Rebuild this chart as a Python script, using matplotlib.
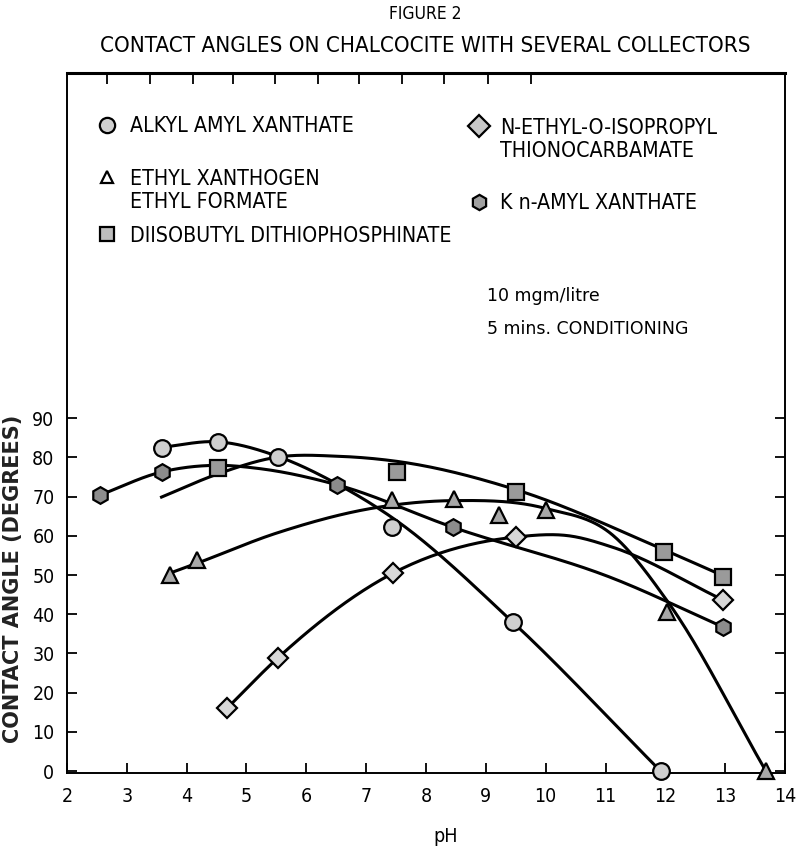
import numpy as np
import matplotlib
matplotlib.use('Agg')
import matplotlib.pyplot as plt

plt.rcParams['font.family'] = ['DejaVu Sans']
plt.rcParams['font.stretch'] = 'condensed'

# Marker points (pH, contact angle in degrees)
alkyl_ph = [3.58, 4.52, 5.52, 7.43, 9.45, 11.92]
alkyl_angle = [82.4, 83.9, 80.1, 62.2, 38.0, 0.0]
formate_ph = [3.72, 4.17, 7.43, 8.47, 9.22, 10.0, 12.02, 13.68]
formate_angle = [50.0, 53.8, 69.1, 69.4, 65.3, 66.6, 40.6, 0.0]
phosphinate_ph = [4.52, 7.52, 9.5, 11.97, 12.97]
phosphinate_angle = [77.3, 76.3, 71.2, 55.9, 49.5]
thiono_ph = [4.68, 5.52, 7.45, 9.5, 12.97]
thiono_angle = [16.1, 28.8, 50.5, 59.7, 43.6]
kamyl_ph = [2.55, 3.58, 6.52, 8.45, 12.97]
kamyl_angle = [70.4, 76.3, 73.0, 62.2, 36.7]

# Points along the hand drawn curves (they do not always hit the markers)
alkyl_curve_ph = [3.58, 4.52, 5.52, 6.52, 7.45, 9.45, 11.92]
alkyl_curve_angle = [82.6, 84.0, 80.3, 73.2, 64.5, 38.0, 0.0]
formate_curve_ph = [3.72, 4.17, 5.5, 7.2, 8.47, 10.0, 11.12, 12.05, 13.68]
formate_curve_angle = [50.5, 53.0, 60.7, 67.3, 69.0, 67.0, 60.2, 43.0, 0.0]
phosphinate_curve_ph = [3.58, 4.52, 5.52, 6.55, 7.52, 9.5, 11.97, 12.97]
phosphinate_curve_angle = [69.9, 75.8, 80.1, 80.3, 79.0, 71.8, 56.5, 49.8]
thiono_curve_ph = [4.68, 5.52, 7.45, 9.5, 10.4, 11.12, 12.97]
thiono_curve_angle = [16.1, 28.8, 50.5, 59.7, 60.0, 57.1, 43.6]
kamyl_curve_ph = [2.55, 3.58, 4.52, 5.2, 6.52, 8.45, 11.12, 12.97]
kamyl_curve_angle = [70.4, 76.3, 78.0, 77.2, 73.0, 62.2, 49.2, 36.7]

x_ticks = list(range(2, 15))
y_ticks = list(range(0, 100, 10))
top_ticks = [2.67, 3.38, 4.1, 4.77, 5.47, 6.2, 6.88, 7.6, 8.3, 9.03, 9.75]


def smooth(xs, ys, n=40):
    # cubic hermite through the read points, for a hand drawn look
    xs = np.asarray(xs, float)
    ys = np.asarray(ys, float)
    m = np.gradient(ys, xs)
    t = np.linspace(0, 1, n)
    h00 = 2 * t**3 - 3 * t**2 + 1
    h10 = t**3 - 2 * t**2 + t
    h01 = -2 * t**3 + 3 * t**2
    h11 = t**3 - t**2
    px, py = [], []
    for i in range(len(xs) - 1):
        h = xs[i + 1] - xs[i]
        px.append(xs[i] + t * h)
        py.append(h00 * ys[i] + h10 * h * m[i] + h01 * ys[i + 1] + h11 * h * m[i + 1])
    return np.concatenate(px), np.concatenate(py)


fig = plt.figure(figsize=(8, 8.48), dpi=100)
ax = fig.add_axes([67 / 800, 75 / 848, 718 / 800, 700 / 848])

series = [
    (alkyl_curve_ph, alkyl_curve_angle, alkyl_ph, alkyl_angle, 'o', '#cfcfcf', 12),
    (formate_curve_ph, formate_curve_angle, formate_ph, formate_angle, '^', '#a8a8a8', 12),
    (phosphinate_curve_ph, phosphinate_curve_angle, phosphinate_ph, phosphinate_angle, 's', '#9a9a9a', 11),
    (thiono_curve_ph, thiono_curve_angle, thiono_ph, thiono_angle, 'D', '#d8d8d8', 10),
    (kamyl_curve_ph, kamyl_curve_angle, kamyl_ph, kamyl_angle, 'h', '#8c8c8c', 12),
]

for cx, cy, mx, my, mk, fc, ms in series:
    sx, sy = smooth(cx, cy)
    ax.plot(sx, sy, color='black', lw=2.2, zorder=2)
    ax.plot(mx, my, linestyle='none', marker=mk, markersize=ms,
            markerfacecolor=fc, markeredgecolor='black', markeredgewidth=1.6,
            zorder=3, clip_on=False)

ax.set_xlim(2, 13.97)
ax.set_ylim(-0.5, 178.1)
ax.set_xticks(x_ticks)
ax.set_yticks(y_ticks)
ax.tick_params(axis='both', direction='in', length=7, width=1.3, labelsize=14)
ax.tick_params(axis='x', pad=10)
ax.tick_params(axis='y', pad=9, right=True)
for s in ax.spines.values():
    s.set_linewidth(1.4)
ax.spines['top'].set_linewidth(2.2)

top = ax.secondary_xaxis('top')
top.set_xticks(top_ticks)
top.tick_params(direction='in', length=8, width=1.3, labeltop=False)

fig.text(446 / 800, 1 - 837 / 848, 'pH', ha='center', va='center', fontsize=14)
fig.text(13 / 800, 1 - 579 / 848, 'CONTACT ANGLE (DEGREES)', rotation=90,
         ha='center', va='center', fontsize=15, fontweight='bold',
         fontstretch='normal', color='#222222')

fig.text(425 / 800, 1 - 14 / 848, 'FIGURE 2', ha='center', va='center', fontsize=12.5)
fig.text(425 / 800, 1 - 46 / 848, 'CONTACT ANGLES ON CHALCOCITE WITH SEVERAL COLLECTORS',
         ha='center', va='center', fontsize=16)

# legend key, laid out as in the printed figure
legend_rows = [
    ('o', '#cfcfcf', 11, 0.056, 0.926, 0.088, 'ALKYL AMYL XANTHATE'),
    ('^', '#ffffff', 9, 0.056, 0.851, 0.088, 'ETHYL XANTHOGEN\nETHYL FORMATE'),
    ('s', '#bdbdbd', 10, 0.056, 0.770, 0.088, 'DIISOBUTYL DITHIOPHOSPHINATE'),
    ('D', '#c8c8c8', 11, 0.574, 0.924, 0.603, 'N-ETHYL-O-ISOPROPYL\nTHIONOCARBAMATE'),
    ('h', '#a0a0a0', 11, 0.574, 0.816, 0.603, 'K n-AMYL XANTHATE'),
]
for mk, fc, ms, kx, ky, tx, label in legend_rows:
    ax.plot([kx], [ky], transform=ax.transAxes, marker=mk, markersize=ms,
            markerfacecolor=fc, markeredgecolor='black', markeredgewidth=1.6,
            clip_on=False)
    ax.text(tx, ky + 0.012, label, transform=ax.transAxes, ha='left', va='top',
            fontsize=15.3, linespacing=1.2)

ax.text(0.585, 0.681, '10 mgm/litre', transform=ax.transAxes, fontsize=12.5,
        va='center', fontstretch='normal')
ax.text(0.585, 0.634, '5 mins. CONDITIONING', transform=ax.transAxes, fontsize=12.5,
        va='center', fontstretch='normal')

fig.savefig('out.png', dpi=100)
